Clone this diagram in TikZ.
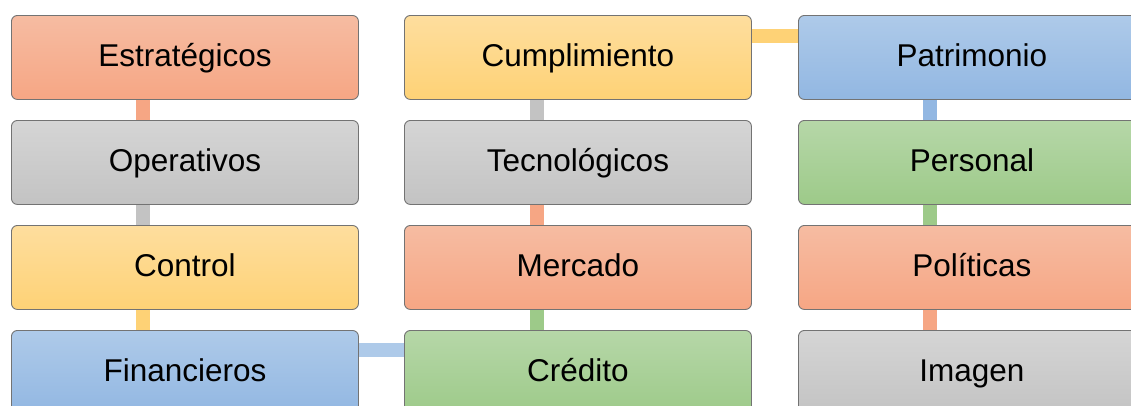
\documentclass[tikz,border=0pt]{standalone}
\usepackage{fontspec}
\setmainfont{Liberation Sans}
\definecolor{salT}{RGB}{246,188,162}
\definecolor{salB}{RGB}{246,166,132}
\definecolor{gryT}{RGB}{213,213,213}
\definecolor{gryB}{RGB}{195,195,195}
\definecolor{yelT}{RGB}{254,222,158}
\definecolor{yelB}{RGB}{254,210,118}
\definecolor{bluT}{RGB}{174,202,233}
\definecolor{bluB}{RGB}{146,183,226}
\definecolor{grnT}{RGB}{182,215,168}
\definecolor{grnB}{RGB}{157,202,137}
\definecolor{edge}{RGB}{115,115,115}
\tikzset{
  x=1pt, y=-1pt,
  box/.style={rectangle, rounded corners=6pt, draw=edge, line width=0.9pt,
    minimum width=347pt, minimum height=84pt, inner sep=0pt, anchor=north west,
    text height=24pt, text depth=6pt,
    font=\fontsize{31.5}{36}\selectfont, text=black},
  sal/.style={box, top color=salT, bottom color=salB},
  gry/.style={box, top color=gryT, bottom color=gryB},
  yel/.style={box, top color=yelT, bottom color=yelB},
  blu/.style={box, top color=bluT, bottom color=bluB},
  grn/.style={box, top color=grnT, bottom color=grnB},
  conn/.style={line width=14pt, draw=#1}
}
\begin{document}
\begin{tikzpicture}
\useasboundingbox (0,0) rectangle (1131,405);
\clip (0,0) rectangle (1131,405);
% nodes
\node[sal] (es) at (11,15) {Estratégicos};
\node[gry] (op) at (11,120) {Operativos};
\node[yel] (co) at (11,225) {Control};
\node[blu] (fi) at (11,330) {Financieros};
\node[yel] (cu) at (404,15) {Cumplimiento};
\node[gry] (te) at (404,120) {Tecnológicos};
\node[sal] (me) at (404,225) {Mercado};
\node[grn] (cr) at (404,330) {Crédito};
\node[blu] (pa) at (798,15) {Patrimonio};
\node[grn] (pe) at (798,120) {Personal};
\node[sal] (po) at (798,225) {Políticas};
\node[gry] (im) at (798,330) {Imagen};
% connectors
\draw[conn=salB] ([xshift=132pt]es.south west) -- ([xshift=132pt]op.north west);
\draw[conn=gryB] ([xshift=132pt]op.south west) -- ([xshift=132pt]co.north west);
\draw[conn=yelB] ([xshift=132pt]co.south west) -- ([xshift=132pt]fi.north west);
\draw[conn=bluT] ([yshift=-20pt]fi.north east) -- ([yshift=-20pt]cr.north west);
\draw[conn=grnB] ([xshift=133pt]cr.north west) -- ([xshift=133pt]me.south west);
\draw[conn=salB] ([xshift=133pt]me.north west) -- ([xshift=133pt]te.south west);
\draw[conn=gryB] ([xshift=133pt]te.north west) -- ([xshift=133pt]cu.south west);
\draw[conn=yelB] ([yshift=-21pt]cu.north east) -- ([yshift=-21pt]pa.north west);
\draw[conn=bluB] ([xshift=131.5pt]pa.south west) -- ([xshift=131.5pt]pe.north west);
\draw[conn=grnB] ([xshift=131.5pt]pe.south west) -- ([xshift=131.5pt]po.north west);
\draw[conn=salB] ([xshift=131.5pt]po.south west) -- ([xshift=131.5pt]im.north west);
\end{tikzpicture}
\end{document}
